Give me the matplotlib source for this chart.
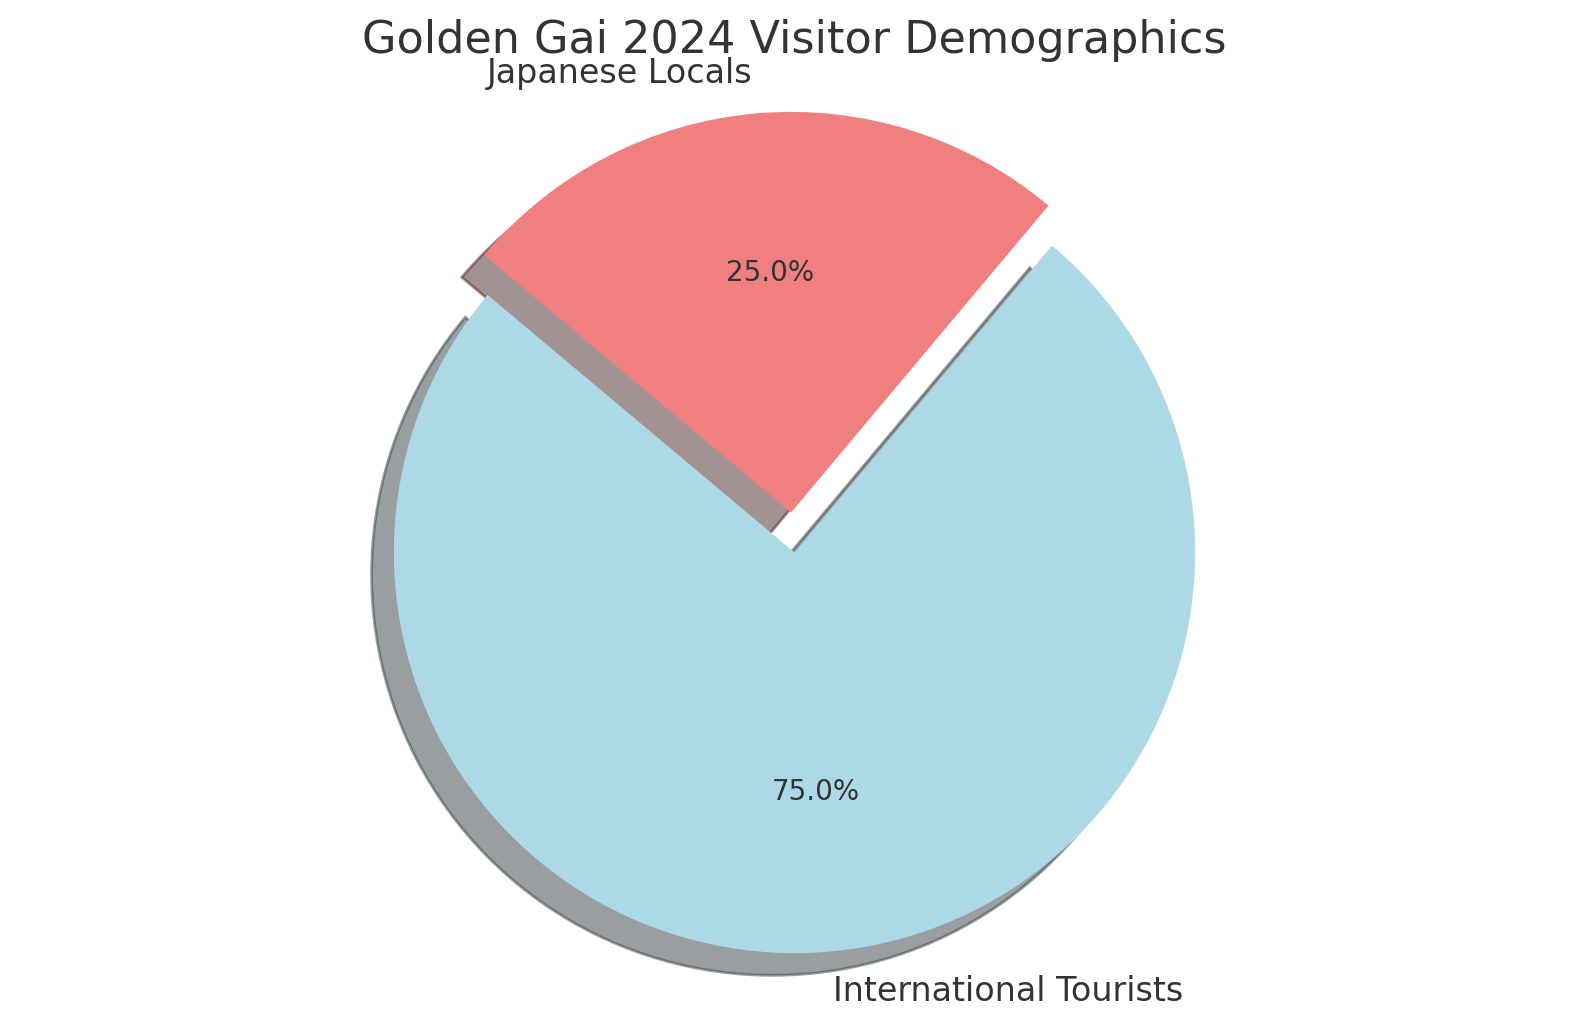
import matplotlib
matplotlib.use("Agg")
import matplotlib.pyplot as plt

labels = ["International Tourists", "Japanese Locals"]
sizes = [75, 25]
colors = ["lightblue", "lightcoral"]
explode = (0, 0.1)

plt.rcParams["text.color"] = "#333333"
fig, ax = plt.subplots(figsize=(7.945, 5.135), dpi=200)
wedges, texts, autotexts = ax.pie(sizes, explode=explode, labels=labels, colors=colors,
                                  autopct="%1.1f%%", shadow=True, startangle=140,
                                  textprops={"fontsize": 12})
for t in autotexts:
    t.set_fontsize(10)
ax.axis("equal")
ax.set_title("Golden Gai 2024 Visitor Demographics", fontsize=16)
fig.subplots_adjust(left=0.05, right=0.95, top=0.932, bottom=0.031)
fig.savefig("out.png", dpi=200)
